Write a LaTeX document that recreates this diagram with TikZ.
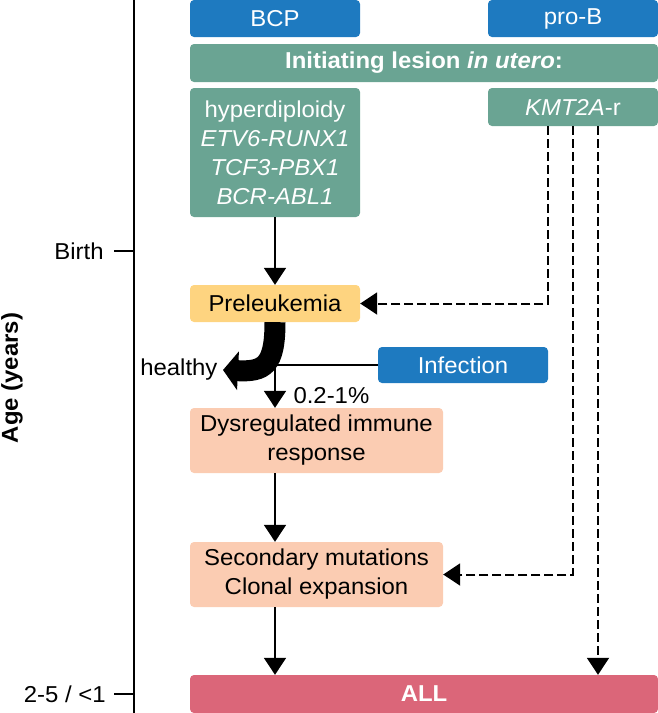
\documentclass[tikz,border=0pt]{standalone}
\usepackage{fontspec}
\setmainfont[FakeStretch=1.04]{Liberation Sans}
\usepackage{tikz}
\usetikzlibrary{arrows.meta,positioning}
\usepackage{xcolor}
\definecolor{cellblue}{RGB}{30,122,192}
\definecolor{lesionteal}{RGB}{106,164,147}
\definecolor{preyellow}{RGB}{254,212,128}
\definecolor{stepsalmon}{RGB}{251,204,178}
\definecolor{allred}{RGB}{219,102,121}
\newcommand{\boxfont}{\fontsize{23}{29}\selectfont}
\tikzstyle{cell} = [rectangle, rounded corners=4pt, fill=cellblue, text=white, inner sep=0pt, minimum width=170pt, minimum height=37pt, font=\boxfont]
\tikzstyle{lesion} = [rectangle, rounded corners=4pt, fill=lesionteal, text=white, inner sep=0pt, minimum width=170pt, minimum height=38pt, align=center, font=\boxfont]
\tikzstyle{stage} = [rectangle, rounded corners=4pt, fill=stepsalmon, inner sep=0pt, minimum width=253pt, minimum height=65pt, align=center, font=\boxfont]
\tikzstyle{arrow} = [line width=2pt, -{Triangle[length=17pt,width=22pt]}]
\tikzstyle{dasharrow} = [arrow, dash pattern=on 9pt off 4pt]

\begin{document}
\begin{tikzpicture}[x=1pt, y=-1pt]
\useasboundingbox (0,0) rectangle (658,713);

% Age axis
\draw[line width=2pt] (134,0) -- (134,713);
\coordinate (birthtick) at (134,251);
\coordinate (alltick) at (134,694);
\draw[line width=2pt] (birthtick) -- ++(-20,0) node[left=6pt, font=\boxfont] (birth) {Birth};
\draw[line width=2pt] (alltick) -- ++(-20,0) node[left=4pt, font=\boxfont] (ageall) {2-5 / <1};
\node[rotate=90, font=\boxfont\bfseries] (age) at (12,378) {Age (years)};

% Cell of origin
\node[cell] (bcp) at (275,18.5) {BCP};
\node[cell] (prob) at (573,18.5) {pro-B};

% Initiating lesions
\node[lesion, minimum width=468pt] (init) at (424,63) {\textbf{Initiating lesion \textit{in utero}:}};
\node[lesion, minimum height=129pt] (hyper) at (275,152.5) {hyperdiploidy\\\textit{ETV6-RUNX1}\\\textit{TCF3-PBX1}\\\textit{BCR-ABL1}};
\node[lesion] (kmt) at (573,107) {\textit{KMT2A}-r};

% Preleukemia and infection
\node[cell, fill=preyellow, text=black] (pre) at (275,303.5) {Preleukemia};
\node[cell, minimum height=36pt] (inf) at (463,365) {Infection};
\node[anchor=east, font=\boxfont] (healthy) at (221,370) {healthy};

% Later stages
\node[stage] (dys) at (316.5,440.5) {Dysregulated immune\\response};
\node[stage] (sec) at (316.5,574.5) {Secondary mutations\\Clonal expansion};
\node[cell, fill=allred, minimum width=468pt, minimum height=38pt, font=\boxfont\bfseries] (all) at (424,694) {ALL};

% Arrows
\draw[arrow] (hyper) -- (pre);
\draw[line width=2pt] (inf.west) -- (inf.west -| pre);
\draw[arrow] (inf.west -| pre) -- (dys.north -| pre);
\node[anchor=west, font=\boxfont] (pct) at (290,396) {0.2-1\%};
\draw[line width=21pt, -{Triangle[length=15pt,width=38pt]}] (pre.south) .. controls (275,366) and (264,372) .. ([xshift=2pt]healthy.east);
\draw[arrow] (dys.south -| pre) -- (sec.north -| pre);
\draw[arrow] (sec.south -| pre) -- (all.north -| pre);

% KMT2A-r routes
\draw[dasharrow] ([xshift=-25pt]kmt.south) |- (pre.east);
\draw[dasharrow] (kmt.south) |- (sec.east);
\draw[dasharrow] ([xshift=25pt]kmt.south) -- ([xshift=25pt]kmt.south |- all.north);
\end{tikzpicture}
\end{document}
